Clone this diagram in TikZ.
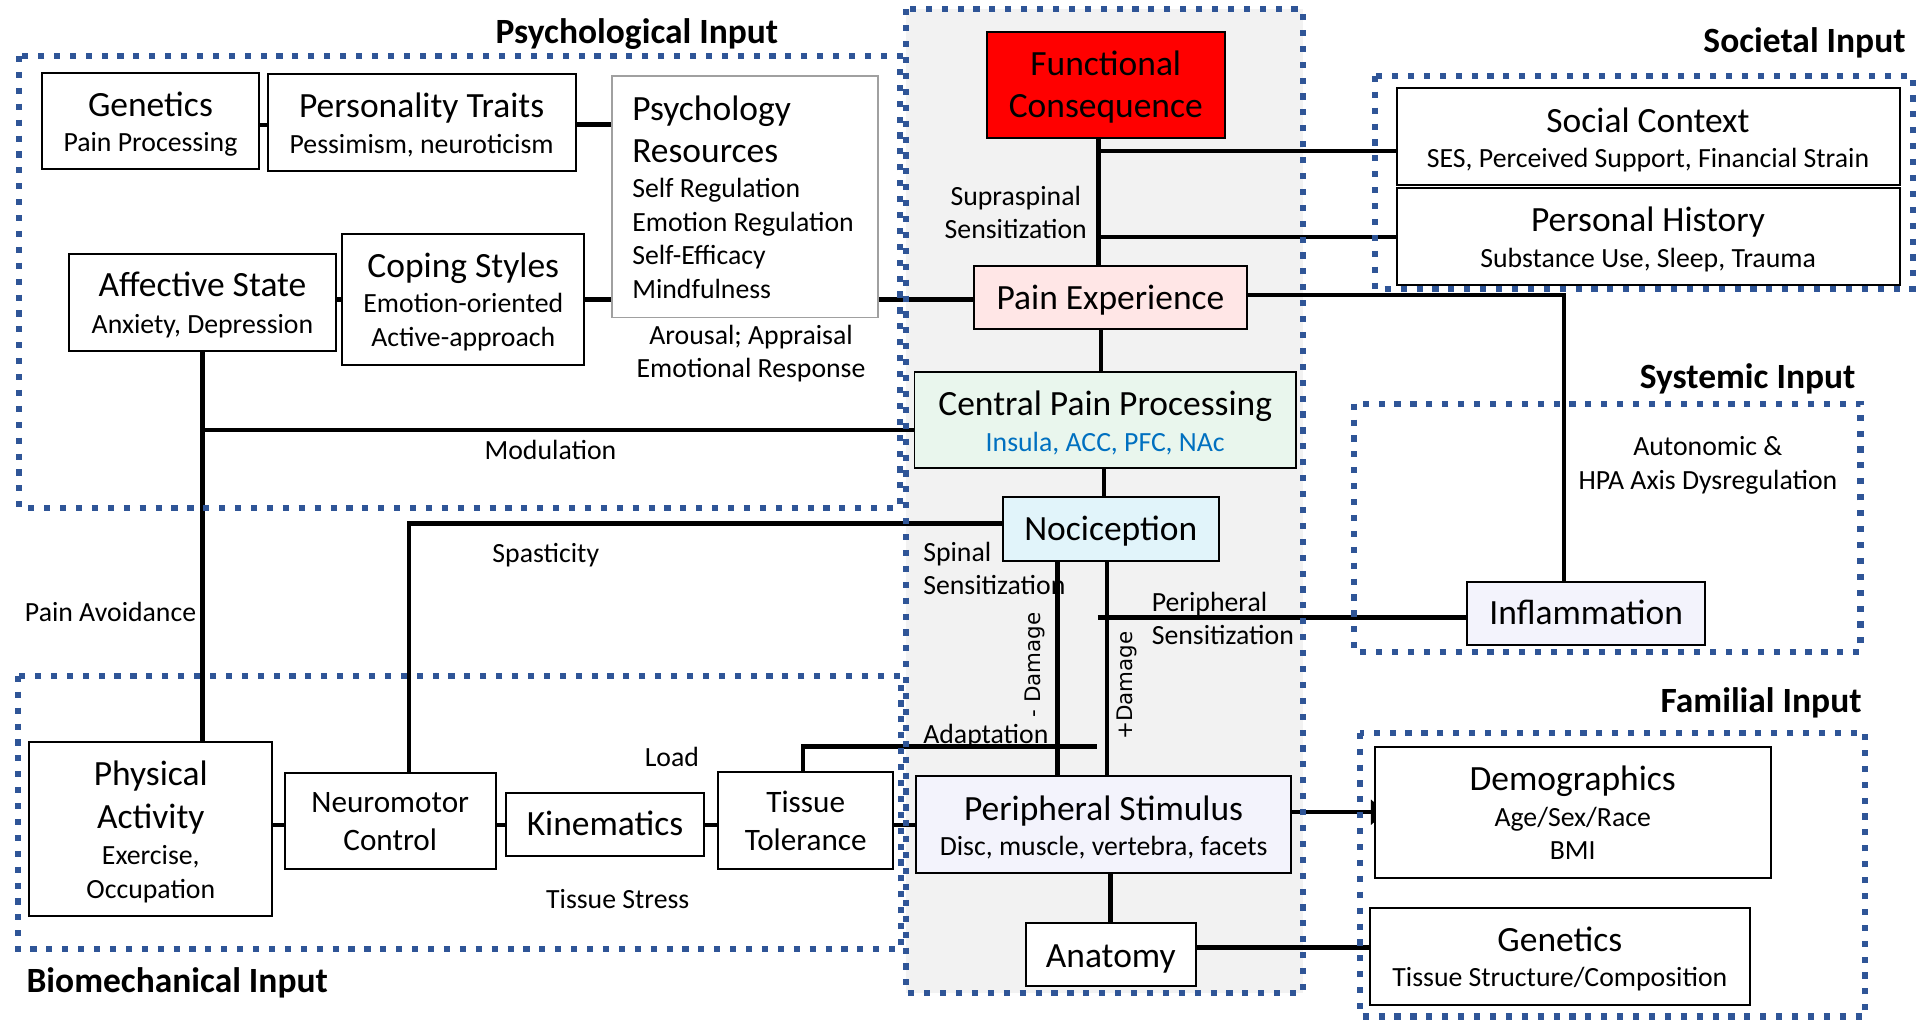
\documentclass[tikz,border=0pt]{standalone}
\usepackage{fontspec}
\setmainfont{Carlito}
\newfontfamily\dvsans{DejaVu Sans}
\usetikzlibrary{fit,arrows.meta}

\definecolor{dotblue}{RGB}{47,85,151}
\definecolor{colgrey}{RGB}{242,242,242}
\definecolor{fcred}{RGB}{255,0,0}
\definecolor{pepink}{RGB}{255,230,230}
\definecolor{cppgreen}{RGB}{233,246,237}
\definecolor{noccyan}{RGB}{225,244,250}
\definecolor{lav}{RGB}{243,243,252}
\definecolor{brainblue}{RGB}{0,112,192}
\definecolor{resgrey}{RGB}{160,160,160}

\pgfdeclarelayer{bg}
\pgfdeclarelayer{lines}
\pgfdeclarelayer{frames}
\pgfsetlayers{bg,lines,frames,main}

\begin{document}
\begin{tikzpicture}[x=1pt,y=-1pt,
  box/.style={draw=black, line width=1.6pt, fill=white, inner sep=0pt, outer sep=0pt},
  ttl/.style={font=\fontsize{29}{34}\selectfont, inner sep=0pt, text height=18.85pt, text depth=1.45pt},
  mid/.style={font=\fontsize{25.5}{30}\selectfont, inner sep=0pt, text height=16.6pt, text depth=1.3pt},
  sub/.style={font=\fontsize{22.7}{27}\selectfont, inner sep=0pt, text height=14.75pt, text depth=1.15pt},
  sect/.style={font=\fontsize{29}{34}\selectfont\bfseries, inner sep=0pt, text height=18.85pt, text depth=1.45pt},
  dmg/.style={font=\fontsize{17.5}{21}\selectfont\dvsans, inner sep=0pt, rotate=90, text height=12.8pt, text depth=0.9pt},
  conn/.style={draw=black, line width=3.6pt},
  frame/.style={draw=dotblue, line width=5pt, dash pattern=on 5pt off 8pt},
]
\useasboundingbox (0,0) rectangle (1568,835);

% ---------- boxes ----------
\node[box, fit={(34.5,59.4) (211.6,138)}] (gen) {};
\node[box, fit={(218.8,60.2) (470.6,139.5)}] (pers) {};
\node[box, draw=resgrey, line width=1.3pt, fit={(500.4,62) (717.7,259.7)}] (psyres) {};
\node[box, fit={(56.6,207.6) (274.4,286.6)}] (aff) {};
\node[box, fit={(279.7,191.3) (477.8,298)}] (cop) {};

\node[box, fill=fcred, fit={(806.6,25.9) (1001.4,113)}] (fc) {};
\node[box, fill=pepink, fit={(796.3,217.2) (1019.4,269)}] (pe) {};
\node[box, fill=cppgreen, fit={(747.6,303.8) (1059.4,382.8)}] (cpp) {};
\node[box, fill=noccyan, fit={(819.6,406.5) (996.6,458.6)}] (noc) {};
\node[box, fill=lav, fit={(749.2,634.4) (1055.1,713.4)}] (ps) {};
\node[box, fit={(838.5,754.8) (977.7,806)}] (anat) {};

\node[box, fit={(1141.7,72.2) (1552.9,151.2)}] (soc) {};
\node[box, fit={(1141.7,153.4) (1552.9,233)}] (ph) {};
\node[box, fill=lav, fit={(1199.6,475.5) (1394,527.3)}] (infl) {};
\node[box, fit={(1123.8,610.4) (1447.6,717.5)}] (demo) {};
\node[box, fit={(1120,742.6) (1430.3,821.6)}] (gen2) {};

\node[box, fit={(24,606.6) (222.6,748.9)}] (phys) {};
\node[box, fit={(232.7,631.7) (405.4,710.7)}] (nm) {};
\node[box, fit={(413.5,648.6) (575.7,699.8)}] (kin) {};
\node[box, fit={(587.2,631.2) (730.2,710.4)}] (tt) {};

% ---------- box texts ----------
\node[ttl] (gen-a) at (123,86.6) {Genetics};
\node[sub] (gen-b) at (123,117) {Pain Processing};
\node[ttl] (pers-a) at (344.7,87.7) {Personality Traits};
\node[sub] (pers-b) at (344.7,118.5) {Pessimism, neuroticism};
\node[ttl, anchor=west] (psyres-a) at (516.7,90) {Psychology};
\node[ttl, anchor=west] (psyres-b) at (516.7,124) {Resources};
\node[sub, anchor=west] (psyres-c) at (516.7,154.8) {Self Regulation};
\node[sub, anchor=west] (psyres-d) at (516.7,182.6) {Emotion Regulation};
\node[sub, anchor=west] (psyres-e) at (516.7,209.8) {Self-Efficacy};
\node[sub, anchor=west] (psyres-f) at (516.7,237.6) {Mindfulness};
\node[ttl] (aff-a) at (165.5,233.8) {Affective State};
\node[sub] (aff-b) at (165.5,265.7) {Anxiety, Depression};
\node[ttl] (cop-a) at (378.75,218) {Coping Styles};
\node[sub] (cop-b) at (378.75,248.8) {Emotion-oriented};
\node[sub] (cop-c) at (378.75,276.6) {Active-approach};

\node[ttl] (fc-a) at (904,53) {Functional};
\node[ttl] (fc-b) at (904,87.7) {Consequence};
\node[ttl] (pe-a) at (907.8,244.4) {Pain Experience};
\node[ttl] (cpp-a) at (903.5,331) {Central Pain Processing};
\node[sub, text=brainblue] (cpp-b) at (903.5,361.9) {Insula, ACC, PFC, NAc};
\node[ttl] (noc-a) at (908.1,433.3) {Nociception};
\node[ttl] (ps-a) at (902.2,662.2) {Peripheral Stimulus};
\node[sub] (ps-b) at (902.2,692.2) {Disc, muscle, vertebra, facets};
\node[ttl] (anat-a) at (908.1,782) {Anatomy};

\node[ttl] (soc-a) at (1347.3,99.5) {Social Context};
\node[sub] (soc-b) at (1347.3,130.2) {SES, Perceived Support, Financial Strain};
\node[ttl] (ph-a) at (1347.3,180.4) {Personal History};
\node[sub] (ph-b) at (1347.3,212) {Substance Use, Sleep, Trauma};
\node[ttl] (infl-a) at (1296.8,501.5) {Inflammation};
\node[ttl] (demo-a) at (1285.7,637.7) {Demographics};
\node[sub] (demo-b) at (1285.7,669) {Age/Sex/Race};
\node[sub] (demo-c) at (1285.7,696.2) {BMI};
\node[ttl] (gen2-a) at (1275.2,769) {Genetics};
\node[sub] (gen2-b) at (1275.2,800) {Tissue Structure/Composition};

\node[ttl] (phys-a) at (123.3,633.6) {Physical};
\node[ttl] (phys-b) at (123.3,668.9) {Activity};
\node[sub] (phys-c) at (123.3,699.7) {Exercise,};
\node[sub] (phys-d) at (123.3,727.5) {Occupation};
\node[mid] (nm-a) at (319,656.2) {Neuromotor};
\node[mid] (nm-b) at (319,687.3) {Control};
\node[ttl] (kin-a) at (494.6,674.5) {Kinematics};
\node[mid] (tt-a) at (658.7,656.2) {Tissue};
\node[mid] (tt-b) at (658.7,687.3) {Tolerance};

% ---------- connector labels ----------
\node[sub] (l-arousal) at (614,275) {Arousal; Appraisal};
\node[sub] (l-emoresp) at (614,302) {Emotional Response};
\node[sub] (l-modul) at (450,369) {Modulation};
\node[sub] (l-supra) at (830.4,161.3) {Supraspinal};
\node[sub] (l-supra2) at (830.4,188) {Sensitization};
\node[sub] (l-auto) at (1396.2,365.7) {Autonomic \&};
\node[sub] (l-hpa) at (1396.2,393.7) {HPA Axis Dysregulation};
\node[sub, anchor=west] (l-spinal) at (754.6,452.4) {Spinal};
\node[sub, anchor=west] (l-spinal2) at (754.6,479.6) {Sensitization};
\node[sub, anchor=west] (l-periph) at (941.4,493.2) {Peripheral};
\node[sub, anchor=west] (l-periph2) at (941.4,520.4) {Sensitization};
\node[sub, anchor=west] (l-adapt) at (754.6,600.9) {Adaptation};
\node[dmg] (l-mdmg) at (845,543.7) {- Damage};
\node[dmg] (l-pdmg) at (919.7,560.5) {+Damage};
\node[sub] (l-spast) at (446.2,452.9) {Spasticity};
\node[sub] (l-avoid) at (90.4,500.9) {Pain Avoidance};
\node[sub] (l-load) at (549.3,620) {Load};
\node[sub] (l-stress) at (505,735.8) {Tissue Stress};

% ---------- section titles ----------
\node[sect] (s-psy) at (520.7,27) {Psychological Input};
\node[sect, anchor=east] (s-soc) at (1558,34) {Societal Input};
\node[sect, anchor=east] (s-sys) at (1517,309) {Systemic Input};
\node[sect, anchor=east] (s-fam) at (1522,574) {Familial Input};
\node[sect, anchor=west] (s-bio) at (21.5,803) {Biomechanical Input};

% ---------- grey column and dotted frames ----------
\begin{pgfonlayer}{bg}
  \fill[colgrey] (741,7.6) rectangle (1065,812);
\end{pgfonlayer}
\begin{pgfonlayer}{frames}
  \draw[frame] (15.4,45.8) rectangle (735.5,415);
  \draw[frame] (741,7.6) rectangle (1065,812);
  \draw[frame] (1124,62) rectangle (1564,236);
  \draw[frame] (1107,330) rectangle (1521,533);
  \draw[frame] (1112,599) rectangle (1525,831);
  \draw[frame] (14.4,552.5) rectangle (736.5,776);
\end{pgfonlayer}

% ---------- connectors ----------
\coordinate (jSoc) at (898,123.4);
\coordinate (jPh) at (898,193.7);
\coordinate (modL) at (165.5,351.5);
\coordinate (psL) at (897.5,504.7);
\coordinate (adR) at (897,610.4);
\begin{pgfonlayer}{lines}
  % psychological chain
  \draw[conn] (gen.east |- 0,102) -- (pers.west |- 0,102);
  \draw[conn, line width=4.4pt] (pers.east |- 0,102) -- (psyres.west |- 0,102);
  \draw[conn] (aff.east |- 0,245) -- (cop.west |- 0,245);
  \draw[conn] (cop.east |- 0,245) -- (psyres.west |- 0,245);
  \draw[conn] (psyres.east |- 0,245) -- (pe.west |- 0,245);
  \draw[conn] (aff.south) -- (phys.north -| aff.south);
  \draw[conn] (modL) -- (cpp.west |- modL);
  % central column
  \draw[conn] (fc.south -| 898,0) -- (pe.north -| 898,0);
  \draw[conn] (soc.west |- jSoc) -- (jSoc);
  \draw[conn] (ph.west |- jPh) -- (jPh);
  \draw[conn] (pe.east |- 0,241) -| (infl.north -| 1278.7,0);
  \draw[conn] (pe.south -| 900.3,0) -- (cpp.north -| 900.3,0);
  \draw[conn] (cpp.south -| 902.4,0) -- (noc.north -| 902.4,0);
  \draw[conn] (noc.west |- 0,427.8) -| (nm.north -| 334.4,0);
  \draw[conn] (noc.south -| 864.5,0) -- (ps.north -| 864.5,0);
  \draw[conn] (noc.south -| 905,0) -- (ps.north -| 905,0);
  \draw[conn] (psL) -- (infl.west |- psL);
  \draw[conn] (tt.north -| 656.3,0) |- (adR);
  % biomechanical chain
  \draw[conn] (phys.east |- 0,674.5) -- (nm.west |- 0,674.5);
  \draw[conn] (nm.east |- 0,674.5) -- (kin.west |- 0,674.5);
  \draw[conn] (kin.east |- 0,674.5) -- (tt.west |- 0,674.5);
  \draw[conn] (tt.east |- 0,674.5) -- (ps.west |- 0,674.5);
  % familial links
  \draw[conn, -{Triangle[length=12pt,width=20pt]}, shorten >=-9pt] (ps.east |- 0,664) -- (demo.west |- 0,664);
  \draw[conn] (ps.south -| 907.8,0) -- (anat.north -| 907.8,0);
  \draw[conn] (anat.east |- 0,774.5) -- (gen2.west |- 0,774.5);
\end{pgfonlayer}
\end{tikzpicture}
\end{document}
